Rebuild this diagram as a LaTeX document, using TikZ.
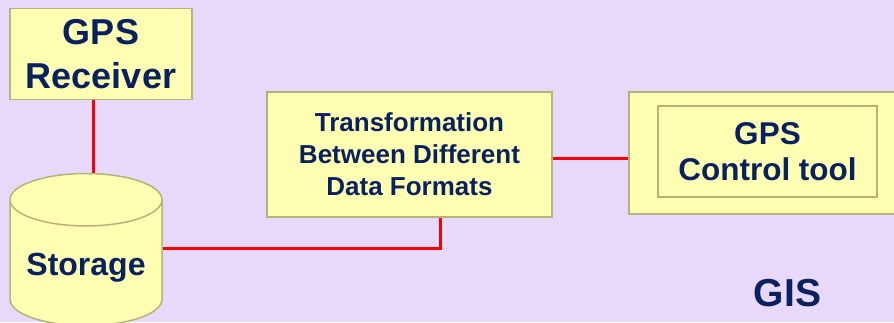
\documentclass[tikz,border=0pt]{standalone}
\usepackage{fontspec}
\setmainfont{Liberation Sans}
\usetikzlibrary{shapes.geometric}
\definecolor{bgpurple}{HTML}{E8D8FA}
\definecolor{boxfill}{HTML}{FFFFB4}
\definecolor{boxline}{HTML}{B4B478}
\definecolor{textnavy}{HTML}{0A2160}
\definecolor{wirered}{HTML}{FF0000}
\begin{document}
\begin{tikzpicture}[
x=1pt, y=-1pt,
every node/.style={
draw=boxline,
fill=boxfill,
line width=1.5pt,
align=center,
text=textnavy,
inner sep=0pt
},
wire/.style={wirered, line width=3pt}
]

% background
\fill[bgpurple] (0,0) rectangle (894,322);
\clip (0,0) rectangle (894,322);

\node[minimum width=182pt, minimum height=91pt,
font=\fontsize{36}{44}\selectfont\bfseries] (R) at (101,54)
{GPS\\Receiver};

\node[cylinder, shape border rotate=90, aspect=0.44,
minimum width=152pt, minimum height=152pt,
text height=24pt, text depth=0pt,
font=\fontsize{32}{38}\selectfont\bfseries] (S) at (86,263)
{Storage};

\node[minimum width=285pt, minimum height=125pt,
font=\fontsize{26}{32}\selectfont\bfseries] (T) at (409.5,154.5)
{Transformation\\Between Different\\Data Formats};

\node[minimum width=300pt, minimum height=122pt] (G) at (779,153)
{};

\node[minimum width=219pt, minimum height=91pt,
font=\fontsize{31.5}{36}\selectfont\bfseries] (C) at (767.5,151.5)
{GPS\\Control tool};

\node[draw=none, fill=none,
font=\fontsize{39}{42}\selectfont\bfseries] (L) at (787.5,293.5)
{GIS};

\draw[wire] (R.south -| 93,0) -- (S.north -| 93,0);
\draw[wire] (S.east |- 0,248) -- (440,248) -- (T.south -| 440,0);
\draw[wire] (T.east |- 0,158) -- (G.west |- 0,158);

\end{tikzpicture}
\end{document}
